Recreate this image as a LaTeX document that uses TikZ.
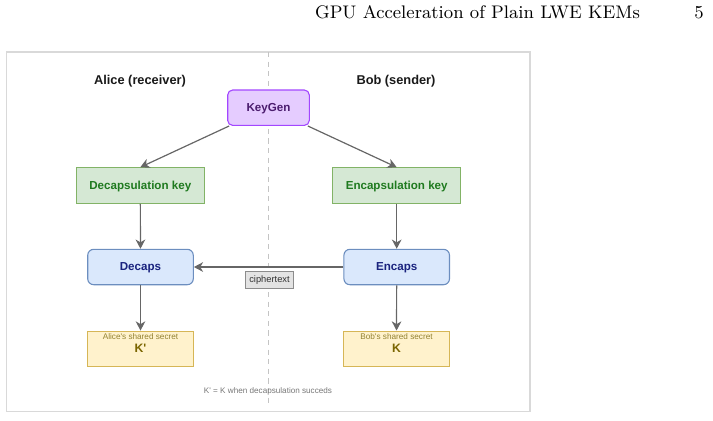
\documentclass[tikz,border=0pt]{standalone}
\usepackage{fontspec}
\usepackage{tikz}
\usetikzlibrary{arrows.meta,positioning}
\newfontfamily\diagsans{Liberation Sans}
\definecolor{Frame}{HTML}{D9D9D9}
\definecolor{Split}{HTML}{C4C4C4}
\definecolor{Flow}{HTML}{666666}
\definecolor{KGfill}{HTML}{E5CCFF}
\definecolor{KGline}{HTML}{A347FF}
\definecolor{KGtext}{HTML}{4B1C6E}
\definecolor{Kfill}{HTML}{D5E8D4}
\definecolor{Kline}{HTML}{82B366}
\definecolor{Ktext}{HTML}{1F7A1F}
\definecolor{Opfill}{HTML}{DAE8FC}
\definecolor{Opline}{HTML}{6C8EBF}
\definecolor{Optext}{HTML}{1A237E}
\definecolor{SSfill}{HTML}{FFF2CC}
\definecolor{SSline}{HTML}{D6B656}
\definecolor{SStext}{HTML}{7A6500}
\definecolor{SSlab}{HTML}{938232}
\definecolor{CTfill}{HTML}{E3E3E3}
\definecolor{CTline}{HTML}{8C8C8C}
\definecolor{Note}{HTML}{777777}

\begin{document}
\begin{tikzpicture}[x=0.5pt,y=-0.5pt,
  box/.style={draw,line width=0.55pt,inner sep=0pt,minimum height=17.7pt,
    text height=4.6pt,text depth=0.9pt,
    font=\diagsans\bfseries\fontsize{5.8}{7}\selectfont},
  keybox/.style={box,fill=Kfill,draw=Kline,text=Ktext,minimum width=64pt},
  opbox/.style={box,rounded corners=3pt,fill=Opfill,draw=Opline,text=Optext,minimum width=52.8pt},
  ssbox/.style={box,fill=SSfill,draw=SSline,text=SStext,minimum width=52.8pt,
    font=\diagsans\bfseries\fontsize{6.1}{7}\selectfont},
  sslab/.style={font=\diagsans\fontsize{4.1}{5}\selectfont,text=SSlab,inner sep=0pt},
  party/.style={font=\diagsans\bfseries\fontsize{6.4}{8}\selectfont,text=black!90},
  flow/.style={draw=Flow,line width=0.6pt,-{Stealth[length=4.6pt,width=4.8pt,inset=1.4pt]}}]
  \useasboundingbox (0,0) rectangle (713,420);

  % running head
  \node[anchor=base east,font=\fontsize{9.1}{11}\selectfont,inner sep=0pt] (runhead) at (640.3,18.7) {GPU Acceleration of Plain LWE KEMs};
  \node[anchor=base east,font=\fontsize{9.1}{11}\selectfont,inner sep=0pt] (pageno) at (704,18.7) {5};

  % figure frame and the line between the parties
  \draw[Frame,line width=0.65pt] (6.5,52) rectangle (530,411.5);
  \draw[Split,line width=0.5pt,dash pattern=on 2.6pt off 2.2pt] (268.7,52) -- (268.7,407);

  \node[party] (alice) at (140,80.7) {Alice (receiver)};
  \node[party] (bob) at (396,80.7) {Bob (sender)};

  \node[box,rounded corners=2.5pt,fill=KGfill,draw=KGline,text=KGtext,minimum width=40.8pt] (keygen) at (268.5,107.7) {KeyGen};

  \node[keybox] (deckey) at (140.3,185.5) {Decapsulation key};
  \node[keybox] (enckey) at (396.7,185.5) {Encapsulation key};

  \node[opbox] (decaps) at (140.5,267) {Decaps};
  \node[opbox] (encaps) at (396.7,267) {Encaps};

  \node[ssbox] (ssA) at (140.5,348.8) {K'};
  \node[ssbox] (ssB) at (396.5,348.8) {K};
  \node[sslab] (ssAlab) at ([yshift=-3.2pt]ssA.north) {Alice's shared secret};
  \node[sslab] (ssBlab) at ([yshift=-3.2pt]ssB.north) {Bob's shared secret};

  \draw[flow] (keygen) -- (deckey.north);
  \draw[flow] (keygen) -- (enckey.north);
  \draw[flow] (deckey) -- (decaps);
  \draw[flow] (enckey) -- (encaps);
  \draw[flow] (encaps) -- (decaps);
  \draw[flow] (decaps) -- (ssA);
  \draw[flow] (encaps) -- (ssB);

  \node[draw=CTline,fill=CTfill,line width=0.5pt,inner sep=0pt,minimum width=23.8pt,minimum height=8.3pt,
    font=\diagsans\fontsize{4.65}{6}\selectfont,text=black!80] (ctext) at (269.5,280) {ciphertext};

  \node[font=\diagsans\fontsize{4.07}{5}\selectfont,text=Note] (note) at (268,391) {K' = K when decapsulation succeds};
\end{tikzpicture}
\end{document}
